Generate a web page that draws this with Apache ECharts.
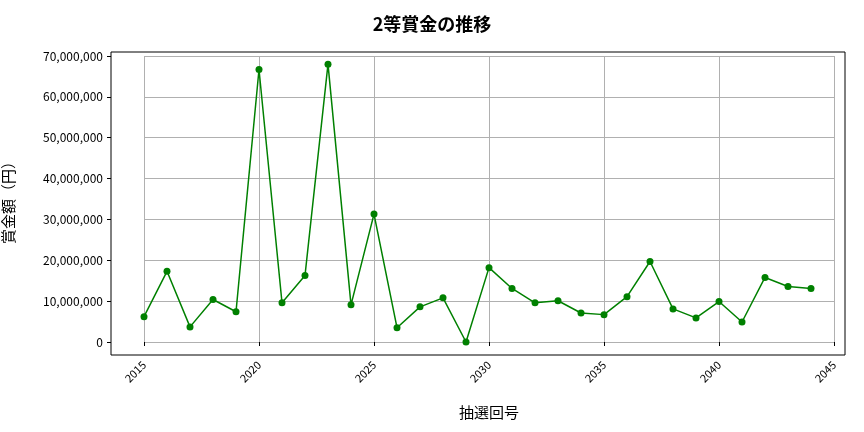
<!DOCTYPE html>
<html><head><meta charset="utf-8">
<script src="https://cdn.jsdelivr.net/npm/echarts@6/dist/echarts.min.js"></script>
<style>body{margin:0}#c{width:864px;height:432px}</style></head>
<body><div id="c"></div><script>
const years = [2015,2016,2017,2018,2019,2020,2021,2022,2023,2024,2025,2026,2027,2028,2029,2030,2031,2032,2033,2034,2035,2036,2037,2038,2039,2040,2041,2042,2043,2044];
const prizes = [6200000,17300000,3700000,10400000,7400000,66700000,9600000,16300000,68000000,9100000,31300000,3500000,8600000,10800000,0,18200000,13100000,9600000,10100000,7100000,6700000,11100000,19700000,8100000,5900000,9900000,4900000,15800000,13600000,13100000];
const font = '"Noto Sans CJK JP", "Noto Sans", sans-serif';
const chart = echarts.init(document.getElementById('c'));
chart.setOption({
  animation:false,
  title:{text:'2等賞金の推移',left:'center',top:10,textStyle:{fontFamily:font,fontSize:18,fontWeight:'bold',color:'#000'}},
  grid:{left:144,right:30,top:56,bottom:90,containLabel:false,outerBoundsMode:'none'},
  graphic:[{type:'rect',shape:{x:111,y:52,width:734,height:303},style:{fill:'none',stroke:'#000',lineWidth:1},z:10}],
  xAxis:{type:'value',min:2015,max:2045,interval:5,offset:13,
    name:'抽選回号',nameLocation:'middle',nameGap:50,nameTextStyle:{fontFamily:font,fontSize:15,color:'#000'},
    axisLine:{show:false},axisTick:{show:true,length:4,lineStyle:{color:'#000'}},
    axisLabel:{rotate:45,fontFamily:font,fontSize:11,color:'#000',margin:8,formatter:v=>String(v)},
    splitLine:{show:true,lineStyle:{color:'#b0b0b0',width:1}}},
  yAxis:{type:'value',min:0,max:70000000,interval:10000000,offset:33,
    name:'賞金額（円）',nameLocation:'middle',nameGap:95,nameRotate:90,nameTextStyle:{fontFamily:font,fontSize:15,color:'#000'},
    axisLine:{show:false},axisTick:{show:true,length:4,lineStyle:{color:'#000'}},
    axisLabel:{fontFamily:font,fontSize:12,color:'#000',formatter:v=>v.toLocaleString('en-US')},
    splitLine:{show:true,lineStyle:{color:'#b0b0b0',width:1}}},
  series:[{type:'line',data:years.map((y,i)=>[y,prizes[i]]),color:'#008000',symbol:'circle',symbolSize:7,lineStyle:{width:1.5,color:'#008000'},itemStyle:{color:'#008000'}}]
});
</script></body></html>
